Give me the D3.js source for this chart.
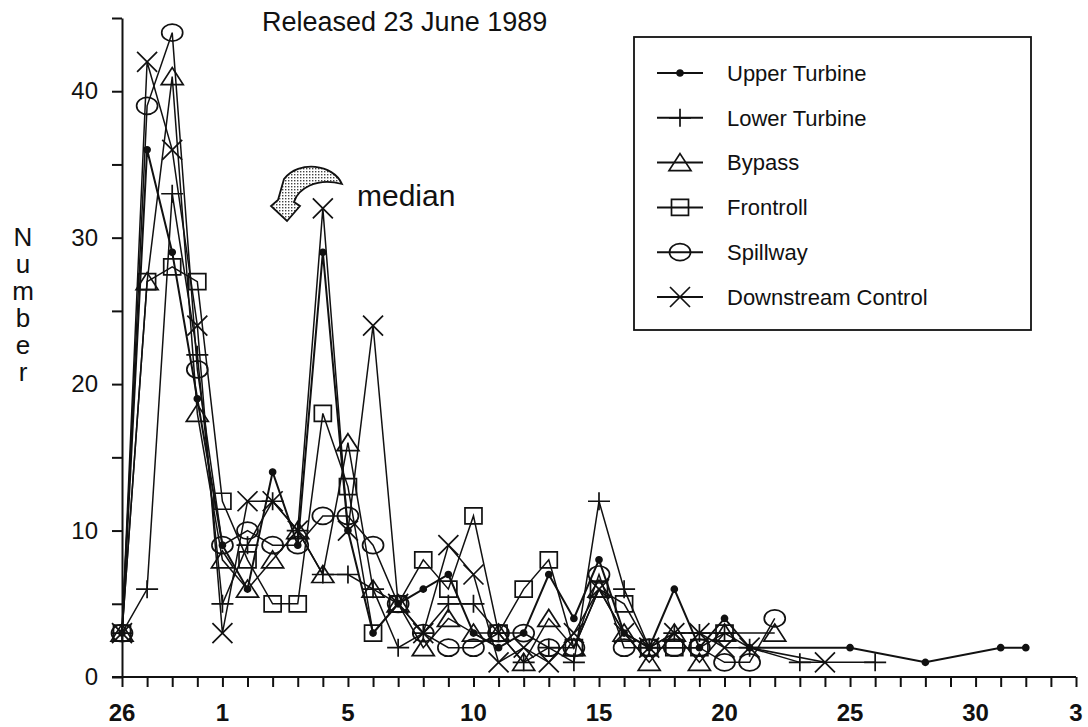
<!DOCTYPE html>
<html lang="en">
<head>
<meta charset="UTF-8"/>
<title>Released 23 June 1989</title>
<script src="https://d3js.org/d3.v7.min.js"></script>
<style>
	body { margin:0; background:#fff; }
	svg text { font-family:"Liberation Sans", Arial, sans-serif; fill:#111; }
</style>
</head>
<body>
<script>
	// day index 0 = 26 June; one tick per day
	var xTickIdx = d3.range(0, 39);
	var xLabelIdx = [0, 4, 9, 14, 19, 24, 29, 34, 38];
	var xLabels = ["26", "1", "5", "10", "15", "20", "25", "30", "3"];
	var yTicks = [0, 5, 10, 15, 20, 25, 30, 35, 40, 45];
	var yLabels = [0, 10, 20, 30, 40];

	// values per day index (null = no point)
	var upperTurbine = [3,36,29,19,9,6,14,9,29,10,3,5,6,7,3,2,3,7,4,8,3,2,6,2,4,2,null,null,null,2,null,null,1,null,null,2,2];
	var lowerTurbine = [3,6,33,22,5,9,12,10,7,7,6,2,3,5,5,3,1,2,1,12,6,2,3,3,3,2,null,1,null,null,1];
	var bypass       = [3,27,41,18,8,6,8,10,7,16,6,5,2,4,3,3,1,4,2,6,3,1,3,1,3,null,3];
	var frontroll    = [3,27,28,27,12,8,5,5,18,13,3,5,8,6,11,3,6,8,2,6,5,2,2,2,3];
	var spillway     = [3,39,44,21,9,10,9,9,11,11,9,5,3,2,2,3,3,2,2,7,2,2,2,2,1,1,4];
	var downstream   = [3,42,36,24,3,12,12,10,32,10,24,5,3,9,7,1,2,1,3,6,3,2,3,3,2,2,null,null,1];

	var seriesNames = ["Upper Turbine", "Lower Turbine", "Bypass", "Frontroll", "Spillway", "Downstream Control"];
	var seriesValues = [upperTurbine, lowerTurbine, bypass, frontroll, spillway, downstream];
	var seriesShapes = ["dot", "plus", "triangle", "square", "circle", "cross"];

	var w = 1088, h = 727;
	var svg = d3.select("body").append("svg").attr("width", w).attr("height", h);

	var xScale = d3.scaleLinear().domain([0, 38]).range([122, 1076]);
	var yScale = d3.scaleLinear().domain([0, 45]).range([677, 18]);

	function markerPath(shape) {
		if (shape == "plus") return "M-11,0H11M0,-9V9";
		if (shape == "triangle") return "M0,-9L11,8H-11Z";
		if (shape == "square") return "M-8.5,-8h17v16h-17Z";
		if (shape == "circle") return "M-10.5,0a10.5,8.5 0 1,0 21,0a10.5,8.5 0 1,0 -21,0Z";
		if (shape == "cross") return "M-10,-10L10,10M10,-10L-10,10";
		return "M-3,0a3,3 0 1,0 6,0a3,3 0 1,0 -6,0Z";
	}

	// axes
	var xAxis = d3.axisBottom(xScale).tickValues(xTickIdx).tickSize(10).tickSizeOuter(0)
		.tickFormat("");
	var gx = svg.append("g").attr("transform", "translate(0," + yScale(0) + ")").call(xAxis);
	gx.selectAll(".tick text").remove();

	// x tick labels drawn by hand so their size is under control
	svg.selectAll(".xlab").data(xLabelIdx).enter().append("text")
		.attr("class", "xlab")
		.text(function(d, i){ return xLabels[i]; })
		.attr("x", function(d){ return xScale(d); })
		.attr("y", 721)
		.attr("text-anchor", "middle")
		.attr("font-size", "24px")
		.attr("font-weight", "bold");

	var yAxis = d3.axisLeft(yScale).tickValues(yTicks).tickSize(10).tickSizeOuter(0).tickPadding(14)
		.tickFormat(function(d){ return yLabels.indexOf(d) >= 0 ? d : ""; });
	var gy = svg.append("g").attr("transform", "translate(" + xScale(0) + ",0)").call(yAxis);
	gy.attr("font-size", null);
	gy.selectAll("text").style("font-size", "24px");

	svg.selectAll(".domain, .tick line").attr("stroke", "#111").attr("stroke-width", 2);
	gx.select(".domain").attr("d", "M" + (xScale(0) - 10) + ",0H" + xScale(38));

	// series
	var line = d3.line()
		.x(function(d){ return xScale(d.i); })
		.y(function(d){ return yScale(d.v); });

	seriesValues.forEach(function(vals, s) {
		var pts = [];
		vals.forEach(function(v, i){ if (v != null) pts.push({i: i, v: v}); });
		svg.append("path").datum(pts).attr("d", line)
			.attr("fill", "none").attr("stroke", "#111")
			.attr("stroke-width", s == 0 ? 2 : 1.5);
		svg.selectAll(".m" + s).data(pts).enter().append("path")
			.attr("class", "m" + s)
			.attr("d", markerPath(seriesShapes[s]))
			.attr("transform", function(d){ return "translate(" + xScale(d.i) + "," + yScale(d.v) + ")"; })
			.attr("fill", s == 0 ? "#111" : "none")
			.attr("stroke", "#111").attr("stroke-width", 1.7);
	});

	// title
	svg.append("text").text("Released 23 June 1989")
		.attr("x", 262).attr("y", 31).style("font-size", "27px");

	// y label, letters stacked top to bottom
	svg.append("text").text("Number")
		.attr("x", 23).attr("y", 222)
		.style("writing-mode", "vertical-rl").style("text-orientation", "upright")
		.style("letter-spacing", "-3px")
		.style("font-size", "26px");

	// median annotation
	var defs = svg.append("defs");
	var pat = defs.append("pattern").attr("id", "stip").attr("width", 3).attr("height", 3)
		.attr("patternUnits", "userSpaceOnUse");
	pat.append("rect").attr("width", 3).attr("height", 3).attr("fill", "#fff");
	pat.append("rect").attr("width", 1.4).attr("height", 1.4).attr("fill", "#444");
	svg.append("path")
		.attr("d", "M342,184C333,164 299,160 284,179L278,200L271,206L287,221L300,206L294,202C298,189 316,177 342,184Z")
		.attr("fill", "url(#stip)").attr("stroke", "#111").attr("stroke-width", 1.8);
	svg.append("text").text("median").attr("x", 357).attr("y", 206).style("font-size", "30px");

	// legend
	var lg = svg.append("g");
	lg.append("rect").attr("x", 634).attr("y", 37).attr("width", 397).attr("height", 293)
		.attr("fill", "#fff").attr("stroke", "#111").attr("stroke-width", 1.8);
	var legY = d3.scalePoint().domain(seriesNames).range([73, 297]);
	seriesNames.forEach(function(name, s) {
		var yy = legY(name);
		lg.append("line").attr("x1", 657).attr("x2", 703).attr("y1", yy).attr("y2", yy)
			.attr("stroke", "#111").attr("stroke-width", 2);
		lg.append("path").attr("d", markerPath(seriesShapes[s]))
			.attr("transform", "translate(680," + yy + ")")
			.attr("fill", s == 0 ? "#111" : "none").attr("stroke", "#111").attr("stroke-width", 1.7);
		lg.append("text").text(name).attr("x", 727).attr("y", yy).attr("dy", "0.35em")
			.style("font-size", "22px");
	});
</script>
</body>
</html>
